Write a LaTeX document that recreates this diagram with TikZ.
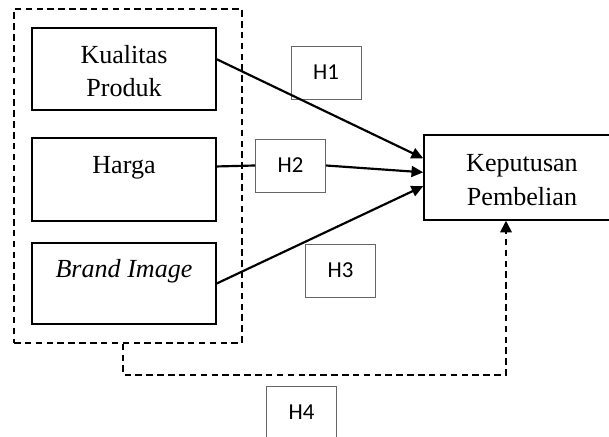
\documentclass[tikz,border=0pt]{standalone}
\usepackage{fontspec}
\setmainfont{Liberation Serif}
\newfontfamily\hfont{Carlito}
\usetikzlibrary{arrows.meta}
\newcommand{\upx}{0.46pt}
\newcommand{\topln}{\rule{0pt}{14.8pt}}

\begin{document}
\begin{tikzpicture}[x=0.46pt, y=-0.46pt, font=\fontsize{12}{15.6}\selectfont,
        varbox/.style={draw, line width=0.7pt, inner sep=0pt, minimum width=184*\upx, align=center},
        hypbox/.style={draw=black!60, line width=0.45pt, inner sep=0pt, minimum width=70*\upx, minimum height=53*\upx, font=\hfont\fontsize{10.5}{12}\selectfont},
        grpbox/.style={draw, dash pattern=on 3pt off 2pt, line width=0.7pt, inner sep=0pt},
        link/.style={line width=1pt, -{Triangle[length=5.4pt, width=5pt]}},
        dlink/.style={line width=0.8pt, dash pattern=on 3pt off 2pt, -{Triangle[length=5.4pt, width=5.4pt]}}]
        \useasboundingbox (0,0) rectangle (609,437);

        \node (grp) at (128,176) [grpbox, minimum width=228*\upx, minimum height=334*\upx]{}; % variabel bebas
        \node (kp) at (124,69) [varbox, minimum height=82*\upx]{\topln Kualitas\\ \strut Produk};
        \node (hg) at (124,179.5) [varbox, minimum height=83*\upx]{\topln Harga\\ \strut};
        \node (bi) at (124,283.5) [varbox, minimum height=81*\upx]{\topln \textit{Brand Image}\\ \strut};
        \node (kep) at (522,177.5) [varbox, minimum width=196*\upx, minimum height=85*\upx]{\topln Keputusan\\ \strut Pembelian};

        \node (h1) at (326,72.5) [hypbox]{H1};
        \node (h2) at (290.5,165.5) [hypbox]{H2};
        \node (h3) at (340.5,270.5) [hypbox]{H3};
        \node (h4) at (301.5,412.5) [hypbox]{H4};

        \draw[link] (kp.6) -- (kep.169); % H1
        \draw[line width=1pt] (hg.8) -- (h2.west); % H2
        \draw[link] (h2.east) -- (kep.177);
        \draw[link] (bi.east) -- (kep.185); % H3
        \draw[dlink] ([xshift=-5*\upx]grp.south) -- ++(0,31) -| ([xshift=-16*\upx]kep.south); % H4
\end{tikzpicture}
\end{document}
